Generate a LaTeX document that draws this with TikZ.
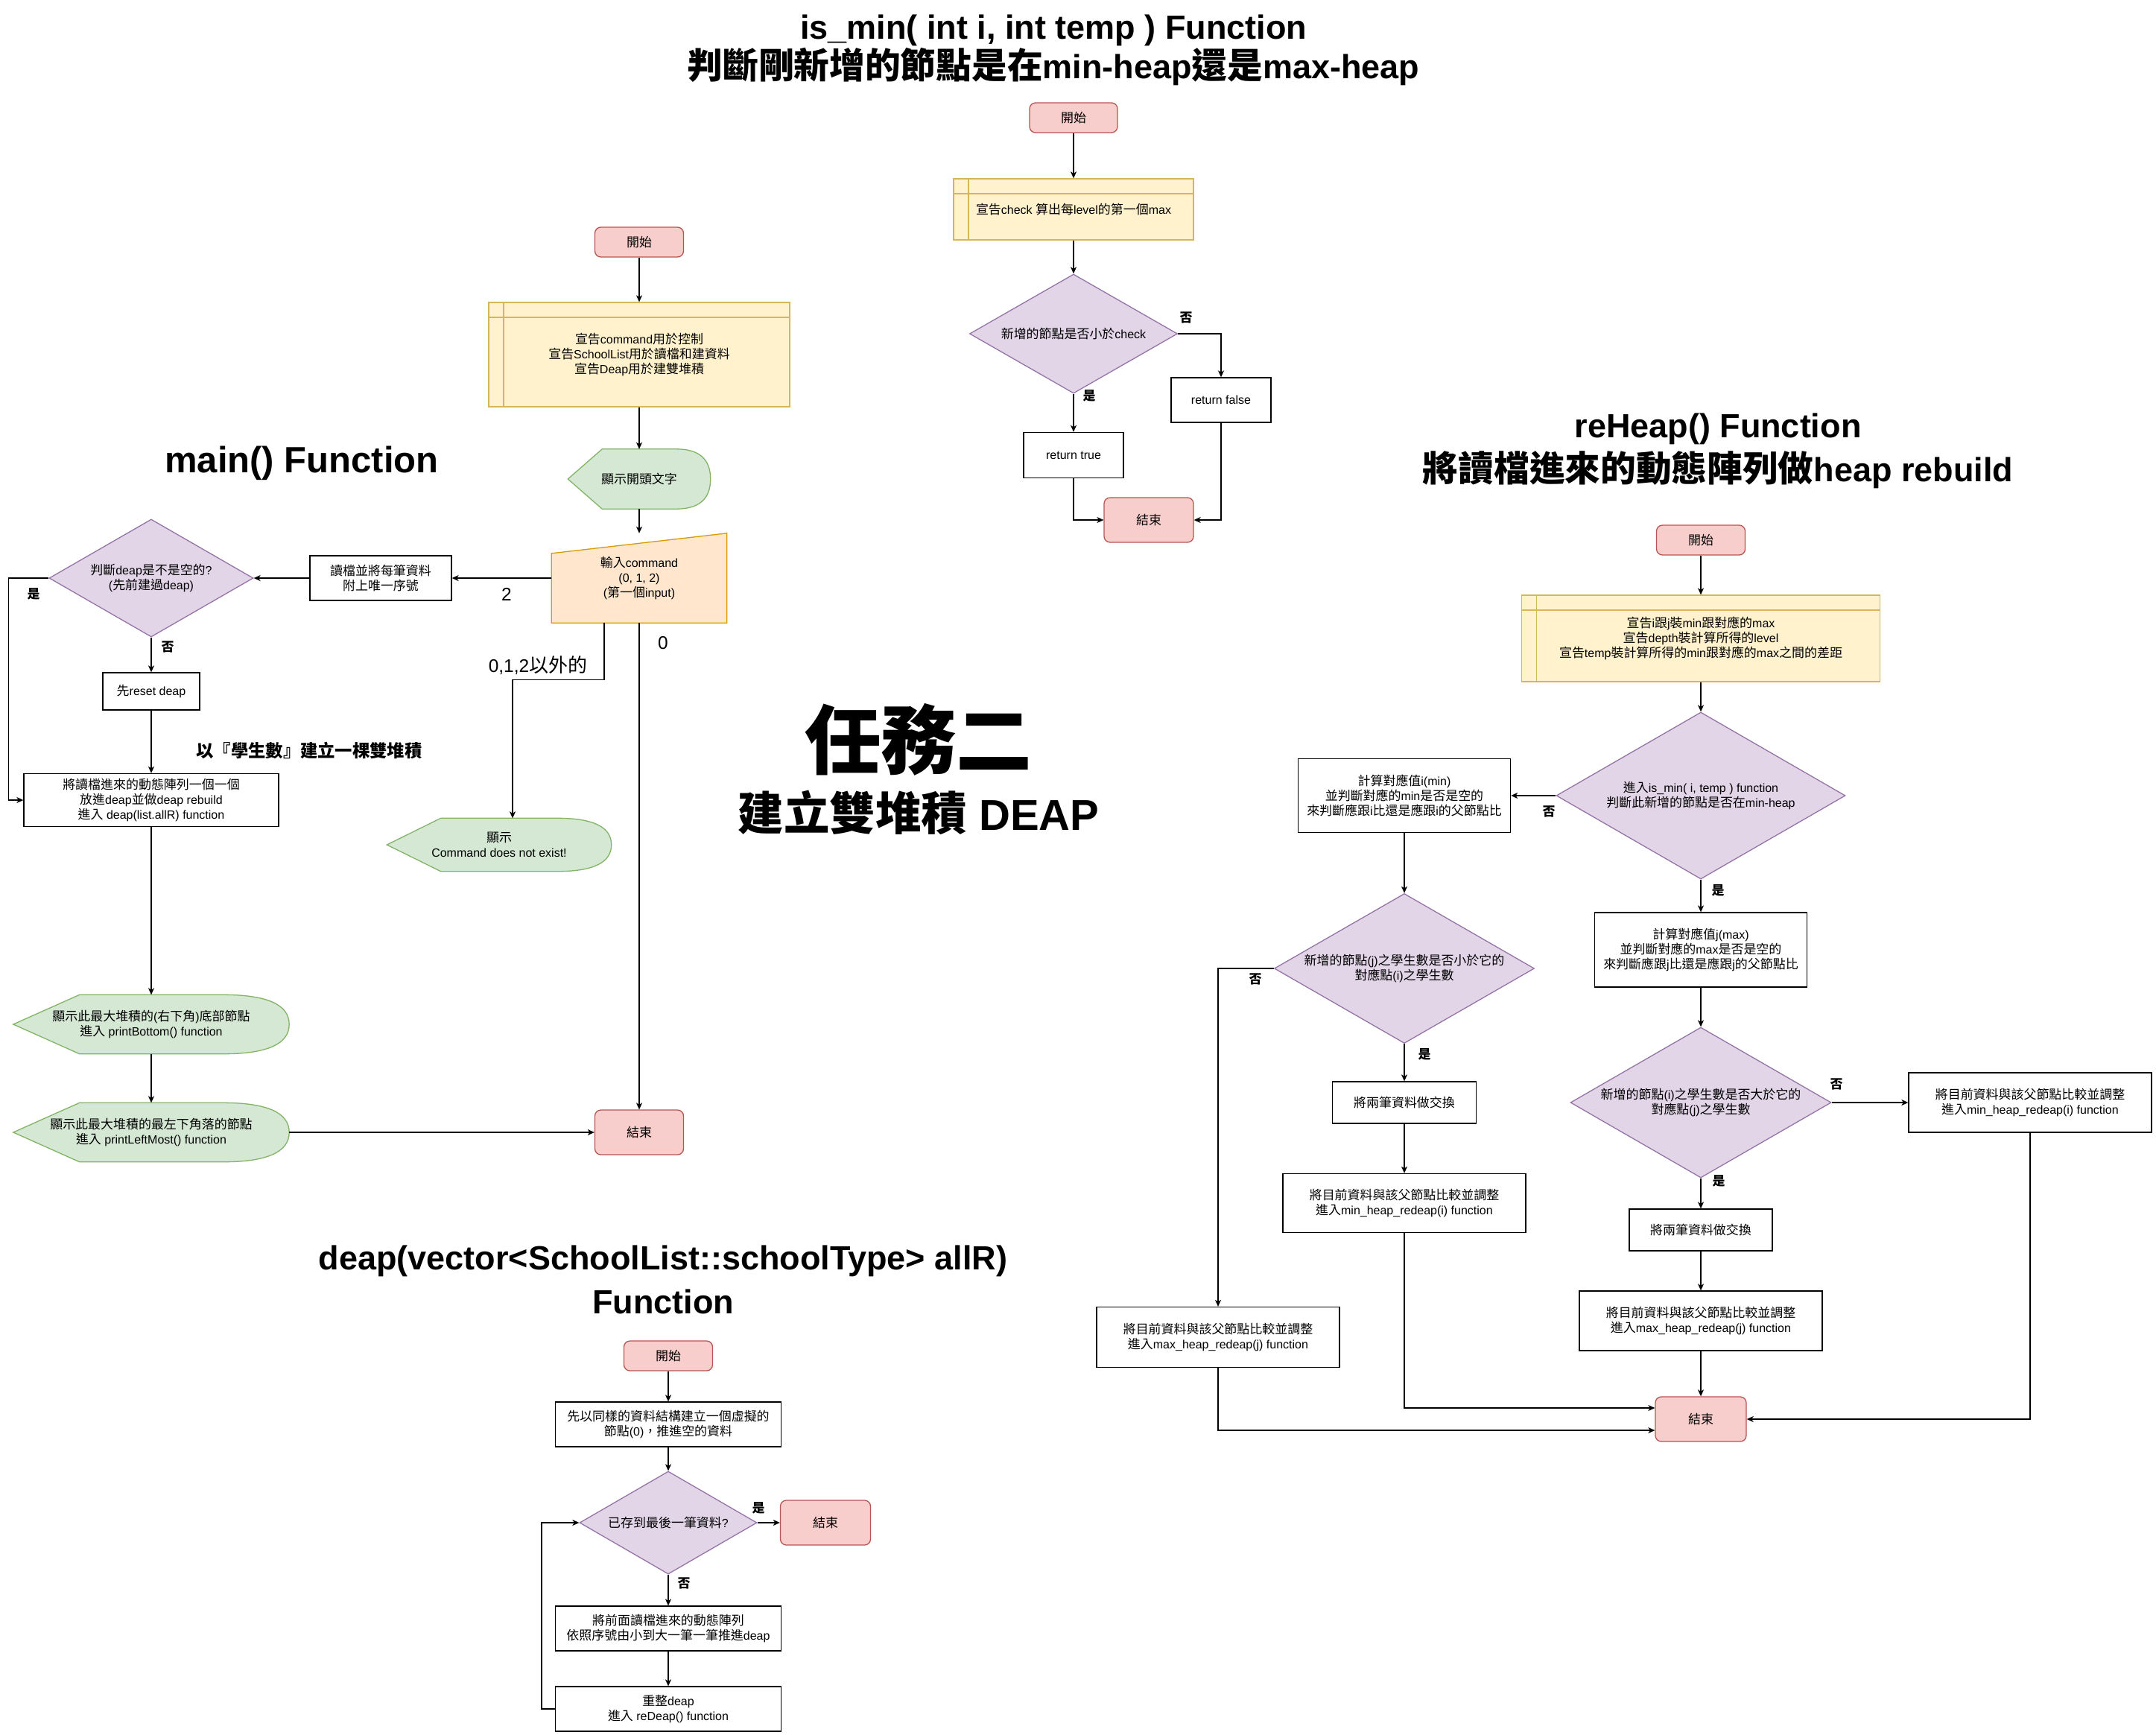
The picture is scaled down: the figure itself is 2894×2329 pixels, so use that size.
\documentclass[tikz,border=0pt]{standalone}
\usepackage{fontspec}
\setmainfont{Liberation Sans}
\newfontfamily\cjkfont[Scale=1.06]{Noto Sans CJK TC}
\usetikzlibrary{shapes.geometric,arrows.meta,calc,backgrounds}

% CJK characters are set in the CJK font
\XeTeXinterchartokenstate=1
\newXeTeXintercharclass\cjkclass
\newcount\cjkcode
\cjkcode="3000 \loop\XeTeXcharclass\cjkcode=\cjkclass \ifnum\cjkcode<"303F \advance\cjkcode by 1 \repeat
\cjkcode="4E00 \loop\XeTeXcharclass\cjkcode=\cjkclass \ifnum\cjkcode<"9FFF \advance\cjkcode by 1 \repeat
\cjkcode="FF00 \loop\XeTeXcharclass\cjkcode=\cjkclass \ifnum\cjkcode<"FFEF \advance\cjkcode by 1 \repeat
\XeTeXinterchartoks 0 \cjkclass = {\begingroup\cjkfont}
\XeTeXinterchartoks 4095 \cjkclass = {\begingroup\cjkfont}
\XeTeXinterchartoks \cjkclass 0 = {\endgroup}
\XeTeXinterchartoks \cjkclass 4095 = {\endgroup}

\definecolor{startfill}{HTML}{F8CECC}
\definecolor{startdraw}{HTML}{B85450}
\definecolor{storefill}{HTML}{FFF2CC}
\definecolor{storedraw}{HTML}{D6B656}
\definecolor{decfill}{HTML}{E1D5E7}
\definecolor{decdraw}{HTML}{9673A6}
\definecolor{showfill}{HTML}{D5E8D4}
\definecolor{showdraw}{HTML}{82B366}
\definecolor{infill}{HTML}{FFE6CC}
\definecolor{indraw}{HTML}{D79B00}

% outline of a display box, drawn round a named node
\newcommand\showshape[1]{%
  \filldraw[draw=showdraw, fill=showfill, line width=1.3pt]
    (#1.west) -- ($(#1.north west)!0.24!(#1.north east)$)
    -- ($(#1.north east)!0.24!(#1.north west)$)
    .. controls ($(#1.north east)!0.08!(#1.north west)$) and ($(#1.east)!0.667!(#1.north east)$) .. (#1.east)
    .. controls ($(#1.east)!0.667!(#1.south east)$) and ($(#1.south east)!0.08!(#1.south west)$)
    .. ($(#1.south east)!0.24!(#1.south west)$)
    -- ($(#1.south west)!0.24!(#1.south east)$) -- cycle;}
% outline of a manual input box
\newcommand\inputshape[2]{%
  \filldraw[draw=indraw, fill=infill, line width=1.3pt]
    (#1.south west) -- ([yshift=-#2]#1.north west) -- (#1.north east) -- (#1.south east) -- cycle;}

\begin{document}
\begin{tikzpicture}[x=1pt, y=-1pt,
  txt/.style={font=\fontsize{16}{20}\selectfont, align=center},
  startstop/.style 2 args={txt, rectangle, rounded corners=8pt, draw=startdraw, fill=startfill, line width=1.3pt, minimum width=#1, minimum height=#2, inner sep=0pt},
  proc/.style 2 args={txt, rectangle, draw=black, fill=white, line width=1.3pt, minimum width=#1, minimum height=#2, inner sep=0pt},
  store/.style 2 args={txt, rectangle, draw=storedraw, fill=storefill, line width=1.3pt, minimum width=#1, minimum height=#2, inner sep=0pt,
    path picture={\draw[storedraw, line width=1.3pt]
      ([xshift=20pt]path picture bounding box.north west) -- ([xshift=20pt]path picture bounding box.south west)
      ([yshift=-20pt]path picture bounding box.north west) -- ([yshift=-20pt]path picture bounding box.north east);}},
  decision/.style 2 args={txt, diamond, /utils/exec={\pgfmathsetmacro\decaspect{#1/#2}}, shape aspect=\decaspect,
    draw=decdraw, fill=decfill, line width=1.3pt, minimum width=#1, minimum height=#2, inner sep=0pt},
  shown/.style 2 args={txt, rectangle, minimum width=#1, minimum height=#2, inner sep=0pt},
  yes/.style={font=\fontsize{16}{20}\selectfont\bfseries},
  big/.style={font=\fontsize{24.5}{30}\selectfont},
  title/.style={font=\fontsize{45}{59}\selectfont\bfseries, align=center},
  arr/.style={line width=1.3pt, -{Stealth[length=9pt,width=8pt,inset=2.5pt]}}]

\useasboundingbox (0,0) rectangle (2894,2329);

% is_min
\node[title, font=\fontsize{45}{53}\selectfont\bfseries] (imTitle) at (1414,67) {is\_min( int i, int temp ) Function\\判斷剛新增的節點是在min-heap還是max-heap};
\node[startstop={118}{40}] (imStart) at (1441,158) {開始};
\node[store={322}{82}] (imDecl) at (1441,281) {宣告check 算出每level的第一個max};
\node[decision={279}{160}] (imCheck) at (1441,448) {新增的節點是否小於check};
\node[proc={134}{60}] (imFalse) at (1639,537) {return false};
\node[proc={134}{61}] (imTrue) at (1441,611) {return true};
\node[startstop={120}{60}] (imEnd) at (1542,698) {結束};
\node[yes] (imNo) at (1592,426) {否};
\node[yes] (imYes) at (1462,531) {是};
\draw[arr] (imStart.south) -- (imDecl.north);
\draw[arr] (imDecl.south) -- (imCheck.north);
\draw[arr] (imCheck.east) -| (imFalse.north);
\draw[arr] (imCheck.south) -- (imTrue.north);
\draw[arr] (imTrue.south) |- (imEnd.west);
\draw[arr] (imFalse.south) |- (imEnd.east);

% main
\node[title, font=\fontsize{49}{59}\selectfont\bfseries] (mTitle) at (405,622) {main() Function};
\node[startstop={119}{40}] (mStart) at (858,325) {開始};
\node[store={404}{140}] (mDecl) at (858,476) {宣告command用於控制\\宣告SchoolList用於讀檔和建資料\\宣告Deap用於建雙堆積};
\node[shown={191}{80}] (mShow) at (858,643) {顯示開頭文字};
\node[shown={235}{120}] (mIn) at (858,776) {輸入command\\(0, 1, 2)\\(第一個input)};
\node[proc={190}{60}] (mRead) at (511,776) {讀檔並將每筆資料\\附上唯一序號};
\node[decision={274}{158}] (mEmpty) at (203,776) {判斷deap是不是空的?\\(先前建過deap)};
\node[proc={130}{50}] (mReset) at (203,928) {先reset deap};
\node[proc={342}{71}] (mBuild) at (203,1074) {將讀檔進來的動態陣列一個一個\\放進deap並做deap rebuild\\進入 deap(list.allR) function};
\node[shown={370}{79}] (mBottom) at (203,1375) {顯示此最大堆積的(右下角)底部節點\\進入 printBottom() function};
\node[shown={370}{79}] (mLeft) at (203,1520) {顯示此最大堆積的最左下角落的節點\\進入 printLeftMost() function};
\node[startstop={119}{60}] (mEnd) at (858,1520) {結束};
\node[shown={301}{71}] (mErr) at (670,1134) {顯示\\Command does not exist!};
\node[yes] (mYes) at (45,797) {是};
\node[yes] (mNo) at (225,868) {否};
\node[big] (mTwo) at (680,798) {2};
\node[big] (mOther) at (722,893) {0,1,2以外的};
\node[big] (mZero) at (890,863) {0};
\node[font=\fontsize{22}{26}\selectfont\bfseries] (mNote) at (415,1008) {以『學生數』建立一棵雙堆積};
\begin{scope}[on background layer]
  \showshape{mShow} \showshape{mErr} \showshape{mBottom} \showshape{mLeft}
  \inputshape{mIn}{27pt}
\end{scope}
\draw[arr] (mStart.south) -- (mDecl.north);
\draw[arr] (mDecl.south) -- (mShow.north);
\draw[arr] (mShow.south) -- (mIn.north);
\draw[arr] (mIn.west) -- (mRead.east);
\draw[arr] (mRead.west) -- (mEmpty.east);
\draw[arr] (mEmpty.west) -- ++(-54,0) |- (mBuild.west);
\draw[arr] (mEmpty.south) -- (mReset.north);
\draw[arr] (mReset.south) -- (mBuild.north);
\draw[arr] (mBuild.south) -- (mBottom.north);
\draw[arr] (mBottom.south) -- (mLeft.north);
\draw[arr] (mLeft.east) -- (mEnd.west);
\draw[arr] ([xshift=-47pt]mIn.south) -- ++(0,76) -| ([xshift=18pt]mErr.north);
\draw[arr] (mIn.south) -- (mEnd.north);

% deap
\node[title] (dTitle) at (890,1718) {deap(vector<SchoolList::schoolType> allR)\\Function};
\node[startstop={119}{40}] (dStart) at (897,1820) {開始};
\node[proc={303}{60}] (dDummy) at (897,1912) {先以同樣的資料結構建立一個虛擬的\\節點(0)，推進空的資料};
\node[decision={238}{138}] (dLast) at (897,2044) {已存到最後一筆資料?};
\node[startstop={121}{60}] (dEnd) at (1108,2044) {結束};
\node[proc={303}{60}] (dPush) at (897,2186) {將前面讀檔進來的動態陣列\\依照序號由小到大一筆一筆推進deap};
\node[proc={303}{60}] (dRe) at (897,2294) {重整deap\\進入 reDeap() function};
\node[yes] (dYes) at (1018,2024) {是};
\node[yes] (dNo) at (918,2125) {否};
\draw[arr] (dStart.south) -- (dDummy.north);
\draw[arr] (dDummy.south) -- (dLast.north);
\draw[arr] (dLast.east) -- (dEnd.west);
\draw[arr] (dLast.south) -- (dPush.north);
\draw[arr] (dPush.south) -- (dRe.north);
\draw[arr] (dRe.west) -- ++(-18,0) |- (dLast.west);

% reHeap
\node[title] (rTitle) at (2306,605) {reHeap() Function\\將讀檔進來的動態陣列做heap rebuild};
\node[startstop={119}{40}] (rStart) at (2283,725) {開始};
\node[store={481}{116}] (rDecl) at (2283,857) {宣告i跟j裝min跟對應的max\\宣告depth裝計算所得的level\\宣告temp裝計算所得的min跟對應的max之間的差距};
\node[decision={388}{224}] (rMin) at (2283,1068) {進入is\_min( i, temp ) function\\判斷此新增的節點是否在min-heap};
\node[proc={285}{99}] (rI) at (1885,1068) {計算對應值i(min)\\並判斷對應的min是否是空的\\來判斷應跟i比還是應跟i的父節點比};
\node[proc={285}{100}] (rJ) at (2283,1275) {計算對應值j(max)\\並判斷對應的max是否是空的\\來判斷應跟j比還是應跟j的父節點比};
\node[decision={349}{201}] (rCmpJ) at (1885,1300) {新增的節點(j)之學生數是否小於它的\\對應點(i)之學生數};
\node[proc={193}{56}] (rSwapA) at (1885,1480) {將兩筆資料做交換};
\node[proc={326}{79}] (rMinA) at (1885,1615) {將目前資料與該父節點比較並調整\\進入min\_heap\_redeap(i) function};
\node[proc={326}{81}] (rMaxA) at (1635,1795) {將目前資料與該父節點比較並調整\\進入max\_heap\_redeap(j) function};
\node[decision={350}{202}] (rCmpI) at (2283,1480) {新增的節點(i)之學生數是否大於它的\\對應點(j)之學生數};
\node[proc={326}{80}] (rMinB) at (2725,1480) {將目前資料與該父節點比較並調整\\進入min\_heap\_redeap(i) function};
\node[proc={192}{56}] (rSwapB) at (2283,1651) {將兩筆資料做交換};
\node[proc={326}{80}] (rMaxB) at (2283,1773) {將目前資料與該父節點比較並調整\\進入max\_heap\_redeap(j) function};
\node[startstop={122}{60}] (rEnd) at (2283,1905) {結束};
\node[yes] (rNoA) at (2079,1089) {否};
\node[yes] (rYesA) at (2306,1195) {是};
\node[yes] (rNoB) at (1685,1314) {否};
\node[yes] (rYesB) at (1912,1415) {是};
\node[yes] (rNoC) at (2465,1455) {否};
\node[yes] (rYesC) at (2307,1585) {是};
\draw[arr] (rStart.south) -- (rDecl.north);
\draw[arr] (rDecl.south) -- (rMin.north);
\draw[arr] (rMin.west) -- (rI.east);
\draw[arr] (rMin.south) -- (rJ.north);
\draw[arr] (rI.south) -- (rCmpJ.north);
\draw[arr] (rCmpJ.south) -- (rSwapA.north);
\draw[arr] (rSwapA.south) -- (rMinA.north);
\draw[arr] (rMinA.south) |- ([yshift=15pt]rEnd.west);
\draw[arr] (rCmpJ.west) -| (rMaxA.north);
\draw[arr] (rMaxA.south) |- ([yshift=-15pt]rEnd.west);
\draw[arr] (rJ.south) -- (rCmpI.north);
\draw[arr] (rCmpI.east) -- (rMinB.west);
\draw[arr] (rCmpI.south) -- (rSwapB.north);
\draw[arr] (rSwapB.south) -- (rMaxB.north);
\draw[arr] (rMaxB.south) -- (rEnd.north);
\draw[arr] (rMinB.south) |- (rEnd.east);

% centre heading
\node[font=\fontsize{96}{110}\selectfont\bfseries] (task) at (1233,993) {任務二};
\node[font=\fontsize{58}{70}\selectfont\bfseries] (taskSub) at (1233,1091) {建立雙堆積 DEAP};
\end{tikzpicture}
\end{document}
